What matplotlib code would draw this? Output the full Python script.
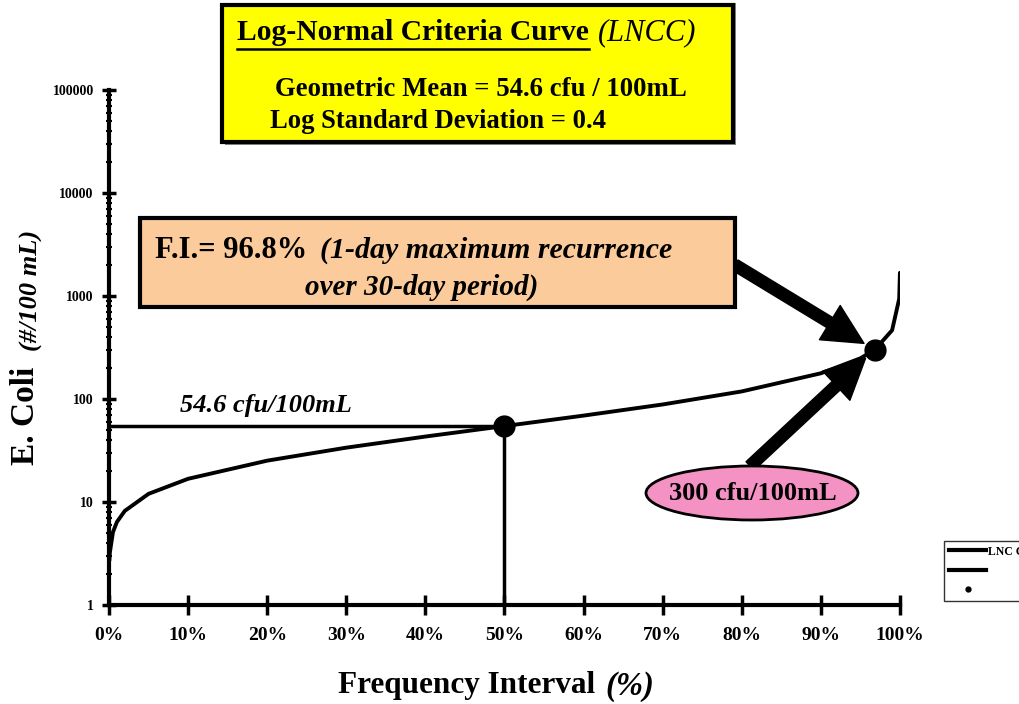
import matplotlib
matplotlib.use("Agg")
import matplotlib.pyplot as plt
from matplotlib.patches import Rectangle, Ellipse
from matplotlib.lines import Line2D
from matplotlib.ticker import LogLocator, NullFormatter, FixedLocator

# ---- data ----
freq_pct = [0.05, 0.1, 0.5, 1, 2, 5, 10, 20, 30, 40, 50, 60, 70, 80, 90, 95, 96.8, 99, 99.9, 99.99]
ecoli = [2.7, 3.2, 5.1, 6.4, 8.2, 12.0, 16.8, 25.2, 33.7, 43.2, 54.6, 69.0, 88.5, 118.5, 177.7, 248.5, 300, 465, 940, 1680]
geo_mean_pt = (50, 54.6)
fi_pt = (96.8, 300)
x_ticks = [0, 10, 20, 30, 40, 50, 60, 70, 80, 90, 100]
x_tick_labels = ["0%", "10%", "20%", "30%", "40%", "50%", "60%", "70%", "80%", "90%", "100%"]
y_ticks = [1, 10, 100, 1000, 10000, 100000]
y_tick_labels = ["1", "10", "100", "1000", "10000", "100000"]

W, H = 1020, 704
fig = plt.figure(figsize=(W / 100, H / 100), dpi=100)
SERIF = ["Liberation Serif", "DejaVu Serif"]
plt.rcParams['font.family'] = SERIF
renderer = fig.canvas.get_renderer()


def fx(x):
    return x / W


def fy(y):
    return 1 - y / H


def text_right_px(t):
    bb = t.get_window_extent(renderer=renderer)
    return bb.x1


ax = fig.add_axes([fx(109), fy(605), fx(900) - fx(109), fy(90) - fy(605)])
ax.set_yscale('log')
ax.set_xlim(0, 100)
ax.set_ylim(1, 100000)

for s in ['top', 'right']:
    ax.spines[s].set_visible(False)
for s in ['left', 'bottom']:
    ax.spines[s].set_linewidth(3)

ax.xaxis.set_major_locator(FixedLocator(x_ticks))
ax.set_xticklabels(x_tick_labels, fontsize=14, fontweight='bold')
ax.yaxis.set_major_locator(FixedLocator(y_ticks))
ax.set_yticklabels(y_tick_labels, fontsize=10, fontweight='bold')
ax.yaxis.set_minor_locator(LogLocator(base=10, subs=range(2, 10)))
ax.yaxis.set_minor_formatter(NullFormatter())
ax.tick_params(axis='x', direction='inout', length=14, width=2.5, pad=9)
ax.tick_params(axis='y', which='major', direction='inout', length=10, width=2.5, pad=6)
ax.tick_params(axis='y', which='minor', direction='inout', length=5, width=1.5)

# curve
ax.plot(freq_pct, ecoli, color='black', lw=2.8, solid_capstyle='round', zorder=3)
# reference lines
ax.plot([0, geo_mean_pt[0]], [geo_mean_pt[1], geo_mean_pt[1]], color='black', lw=2.5, zorder=3)
ax.plot([geo_mean_pt[0], geo_mean_pt[0]], [1, geo_mean_pt[1]], color='black', lw=2.5, zorder=3)
ax.plot([geo_mean_pt[0]], [geo_mean_pt[1]], 'o', color='black', ms=15, zorder=4)
ax.plot([fi_pt[0]], [fi_pt[1]], 'o', color='black', ms=15, zorder=4)

ax.text(9, 86, "54.6 cfu/100mL", fontsize=19, fontweight='bold', fontstyle='italic',
        ha='left', va='center')

# axis labels
fig.text(fx(338), fy(686), "Frequency Interval", fontsize=22.5, fontweight='bold', ha='left', va='center')
fig.text(fx(605), fy(686), "(%)", fontsize=23.5, fontweight='bold', fontstyle='italic', ha='left', va='center')
fig.text(fx(26), fy(416), "E. Coli", fontsize=24, fontweight='bold', rotation=90, ha='center', va='center')
fig.text(fx(31), fy(290), "(#/100 mL)", fontsize=19, fontweight='bold', fontstyle='italic', rotation=90, ha='center', va='center')

# yellow box
fig.patches.append(Rectangle((fx(225), fy(145)), fx(736) - fx(225), fy(3) - fy(145), transform=fig.transFigure,
                             facecolor='#888888', edgecolor='none', zorder=1))
fig.patches.append(Rectangle((fx(222), fy(142)), fx(733) - fx(222), fy(5) - fy(142), transform=fig.transFigure,
                             facecolor='#FFFF00', edgecolor='black', lw=3, zorder=2))
t1 = fig.text(fx(237), fy(33), "Log-Normal Criteria Curve", fontsize=21.3, fontweight='bold', ha='left', va='center', zorder=5)
x_end = text_right_px(t1)
fig.text(fx(598), fy(33), "(LNCC)", fontsize=22, fontstyle='italic', ha='left', va='center', zorder=5)
fig.lines.append(Line2D([fx(237), x_end / W], [fy(49), fy(49)], transform=fig.transFigure, color='black', lw=1.8, zorder=6))
fig.text(fx(275), fy(89), "Geometric Mean = 54.6 cfu / 100mL", fontsize=19.3, fontweight='bold', ha='left', va='center', zorder=5)
fig.text(fx(270), fy(121), "Log Standard Deviation = 0.4", fontsize=19.2, fontweight='bold', ha='left', va='center', zorder=5)

# peach box
fig.patches.append(Rectangle((fx(140), fy(307)), fx(735) - fx(140), fy(218) - fy(307), transform=fig.transFigure,
                             facecolor='#FBCB9C', edgecolor='black', lw=3, zorder=2))
fig.text(fx(155), fy(250), "F.I.= 96.8%", fontsize=22, fontweight='bold', ha='left', va='center', zorder=5)
fig.text(fx(320), fy(250), "(1-day maximum recurrence", fontsize=21.5, fontweight='bold', fontstyle='italic', ha='left', va='center', zorder=5)
fig.text(fx(305), fy(287), "over 30-day period)", fontsize=21, fontweight='bold', fontstyle='italic', ha='left', va='center', zorder=5)

# pink ellipse
fig.patches.append(Ellipse((fx(752), fy(493)), fx(212), fy(0) - fy(54), transform=fig.transFigure,
                           facecolor='#F592C4', edgecolor='black', lw=2, zorder=2))
fig.text(fx(753), fy(494), "300 cfu/100mL", fontsize=19, fontweight='bold', ha='center', va='center', zorder=5)

# arrows
arrow_kw = dict(arrowstyle='simple,head_length=1.2,head_width=1.2,tail_width=0.35', fc='black', ec='black',
                mutation_scale=24, shrinkA=0, shrinkB=9)
ax.annotate("", xy=fi_pt, xycoords='data', xytext=(735, H - 265), textcoords='figure pixels',
            arrowprops=arrow_kw, zorder=6)
ax.annotate("", xy=fi_pt, xycoords='data', xytext=(750, H - 466), textcoords='figure pixels',
            arrowprops=arrow_kw, zorder=6)

# legend (cut by the figure edge, as in the original)
handles = [Line2D([], [], color='black', lw=3), Line2D([], [], color='black', lw=3),
           Line2D([], [], color='black', marker='o', ls='none', ms=3.5)]
leg = fig.legend(handles, ["LNC Curve", " ", " "], loc='upper left', bbox_to_anchor=(fx(938), fy(535)),
                 frameon=True, fancybox=False, edgecolor='black', handlelength=3.2, handletextpad=0.1,
                 prop={'family': SERIF, 'weight': 'bold', 'size': 8.5}, borderpad=0.4, labelspacing=0.6)
leg.get_frame().set_linewidth(1)

fig.savefig("out.png", dpi=100)
